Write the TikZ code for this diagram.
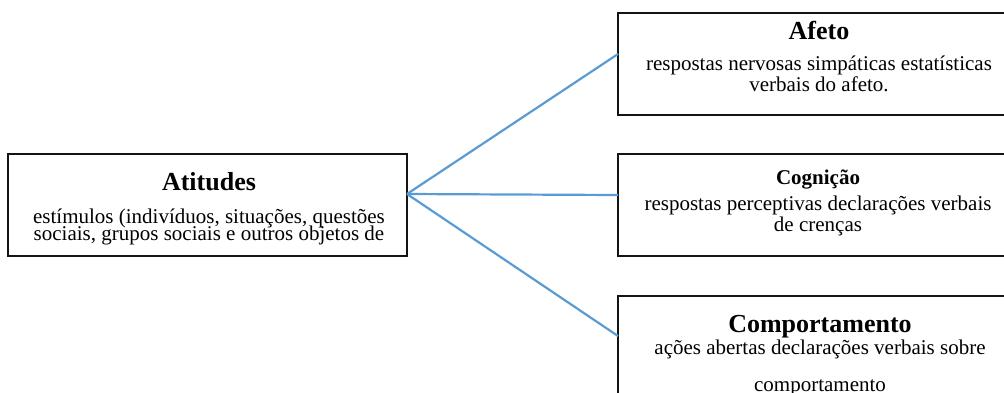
\documentclass[tikz,border=0pt]{standalone}
\usepackage{fontspec}
\setmainfont{Liberation Serif}
\definecolor{linkblue}{RGB}{91,155,213}
\definecolor{boxline}{RGB}{20,20,20}
\begin{document}
\begin{tikzpicture}[x=1pt,y=-1pt,
  box/.style={draw=boxline, line width=1.6pt, rectangle, inner sep=0pt,
    outer sep=0pt, anchor=north west, minimum height=102pt},
  conn/.style={draw=linkblue, line width=2.2pt},
  head/.style={font=\rmfamily\bfseries\fontsize{26}{26}\selectfont, anchor=base, inner sep=0pt},
  smallhead/.style={font=\rmfamily\bfseries\fontsize{21}{21}\selectfont, anchor=base, inner sep=0pt},
  body/.style={font=\rmfamily\fontsize{21}{21}\selectfont, anchor=base, inner sep=0pt}]
\useasboundingbox (0,0) rectangle (1004,392);
\clip (0,0) rectangle (1004,392);

% boxes
\node[box, minimum width=399pt] (att) at (8,154) {};
\node[box, minimum width=400pt] (afe) at (618,13) {};
\node[box, minimum width=400pt] (cog) at (618,154) {};
\node[box, minimum width=400pt] (com) at (618,296) {};

% connectors from the common point on the left box
\coordinate (hub) at ([yshift=11pt]att.east);
\draw[conn] (hub) -- ([yshift=10pt]afe.west);
\draw[conn] (hub) -- ([yshift=10pt]cog.west);
\draw[conn] (hub) -- ([yshift=11pt]com.west);

% texts
\node[head] (att-t) at (209,190) {Atitudes};
\node[body] (att-a) at (209,223) {estímulos (indivíduos, situações, questões};
\node[body] (att-b) at (209,240) {sociais, grupos sociais e outros objetos de};

\node[head] (afe-t) at (819,39) {Afeto};
\node[body] (afe-a) at (819,70) {respostas nervosas simpáticas estatísticas};
\node[body] (afe-b) at (819,91) {verbais do afeto.};

\node[smallhead] (cog-t) at (818,184) {Cognição};
\node[body] (cog-a) at (818,210) {respostas perceptivas declarações verbais};
\node[body] (cog-b) at (818,231) {de crenças};

\node[head] (com-t) at (820,332) {Comportamento};
\node[body] (com-a) at (820,354) {ações abertas declarações verbais sobre};
\node[body] (com-b) at (820,391) {comportamento};
\end{tikzpicture}
\end{document}
